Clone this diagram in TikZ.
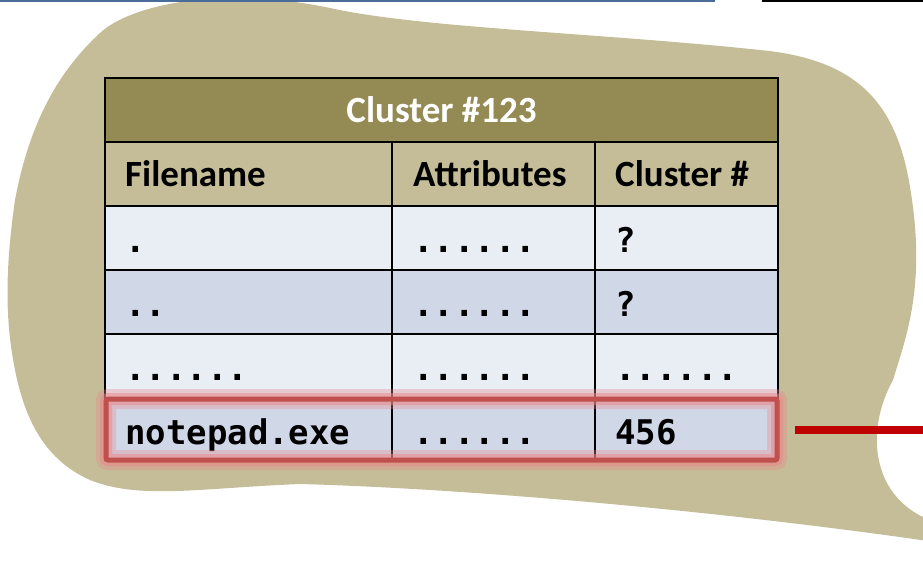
\documentclass[tikz,border=0pt]{standalone}
\usepackage{fontspec}
\setmainfont{Carlito}
\setmonofont{DejaVu Sans Mono}
\usetikzlibrary{positioning}
\definecolor{blobtan}{HTML}{C4BD97}
\definecolor{titleolive}{HTML}{948A54}
\definecolor{rowA}{HTML}{E9EDF4}
\definecolor{rowB}{HTML}{D0D8E8}
\definecolor{hlred}{HTML}{C0504D}
\definecolor{hlglow}{HTML}{E8888A}
\definecolor{linered}{HTML}{C00000}
\definecolor{topblue}{HTML}{4A6C9B}

\begin{document}
\begin{tikzpicture}[x=1pt,y=-1pt,
  hdr/.style={font=\fontsize{37}{40}\selectfont\bfseries, anchor=base west, inner sep=0pt},
  val/.style={font=\fontsize{34}{40}\selectfont\ttfamily\bfseries, anchor=base west, inner sep=0pt},
  grid/.style={line width=2.5pt, black},
  hlbox/.style={draw=hlred, line width=5pt, rounded corners=2pt, outer sep=0pt,
    preaction={draw=hlglow, line width=20pt, opacity=0.35},
    preaction={draw=hlglow, line width=12pt, opacity=0.5}},
  redline/.style={draw=linered, line width=8pt}]
\useasboundingbox (0,0) rectangle (923,570);
\clip (0,0) rectangle (923,570);
% Blob
\fill[blobtan] (100,33) .. controls (130,5) and (220,-15) .. (330,8)
  .. controls (420,28) and (600,33) .. (760,50)
  .. controls (865,60) and (900,110) .. (912,200)
  .. controls (925,290) and (905,340) .. (893,380)
  .. controls (865,430) and (870,500) .. (935,522)
  -- (935,542)
  .. controls (700,508) and (450,488) .. (300,484)
  .. controls (200,488) and (140,500) .. (90,480)
  .. controls (45,460) and (25,420) .. (15,370)
  .. controls (5,320) and (5,270) .. (15,200)
  .. controls (30,120) and (60,70) .. (100,33) -- cycle;
% Table
\fill[titleolive] (105,78) rectangle (778,142);
\fill[blobtan] (105,142) rectangle (778,206);
\fill[rowA] (105,206) rectangle (778,270);
\fill[rowB] (105,270) rectangle (778,334);
\fill[rowA] (105,334) rectangle (778,398);
\fill[rowB] (105,398) rectangle (778,460);
\draw[grid] (105,78) rectangle (778,460);
\foreach \y in {142,206,270,334,398}
  \draw[grid] (105,\y) -- (778,\y);
\draw[grid] (392,142) -- (392,460);
\draw[grid] (595,142) -- (595,460);
% Headers
\node[hdr, anchor=base, white] (title) at (441.5,122) {Cluster \#123};
\node[hdr] (hfile) at (125,186) {Filename};
\node[hdr] (hattr) at (413,186) {Attributes};
\node[hdr] (hclus) at (615,186) {Cluster \#};
% Entries
\node[val] (file1) at (125,252) {.};
\node[val] (attr1) at (413,252) {......};
\node[val] (clus1) at (615,252) {?};
\node[val] (file2) at (125,316) {..};
\node[val] (attr2) at (413,316) {......};
\node[val] (clus2) at (615,316) {?};
\node[val] (file3) at (125,380) {......};
\node[val] (attr3) at (413,380) {......};
\node[val] (clus3) at (615,380) {......};
\node[val] (file4) at (125,444) {notepad.exe};
\node[val] (attr4) at (413,444) {......};
\node[val] (clus4) at (615,444) {456};
% Highlight
\node[hlbox, minimum width=671pt, minimum height=61pt, anchor=north west] (hl) at (106,399) {};
\path (hl.east) ++(146,0) coordinate (lineend);
\draw[redline] ([xshift=18pt]hl.east) -- (lineend);
% Top rules
\draw[topblue, line width=2pt] (0,1) -- (715,1);
\draw[black, line width=2pt] (762,1) -- (923,1);
\end{tikzpicture}
\end{document}
